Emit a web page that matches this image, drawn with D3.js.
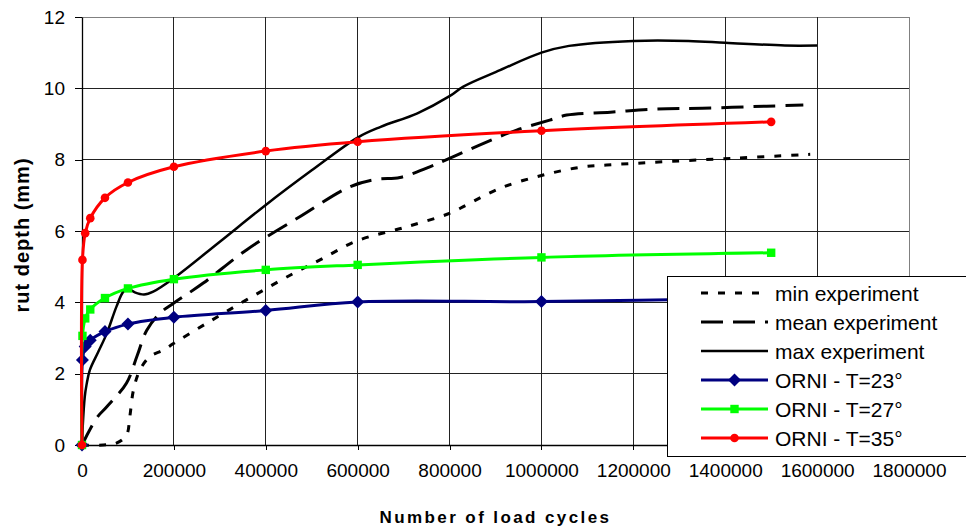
<!DOCTYPE html>
<html>
<head>
<meta charset="utf-8">
<script src="https://cdn.jsdelivr.net/npm/d3@7"></script>
<style>
  html, body { margin: 0; padding: 0; background: #fff; }
  svg { display: block; }
  text { font-family: "Liberation Sans", Arial, sans-serif; fill: #000; }
</style>
</head>
<body>
<svg id="chart" width="966" height="531"></svg>
<script>
// Rut depth versus load cycles: experiments (min / mean / max) and ORNI predictions
const xTicks = [0, 200000, 400000, 600000, 800000, 1000000, 1200000, 1400000, 1600000, 1800000];
const yTicks = [0, 2, 4, 6, 8, 10, 12];

const minExperiment = [
  [0, 0], [46000, 0], [75000, 0.05], [97000, 0.28], [104000, 0.79], [112000, 1.54],
  [126000, 2.1], [148000, 2.48], [177000, 2.66], [200000, 2.85], [271000, 3.41],
  [358000, 4.07], [460000, 4.81], [518000, 5.19], [598000, 5.72], [707000, 6.12],
  [801000, 6.5], [837000, 6.73], [910000, 7.2], [1004000, 7.57], [1091000, 7.8],
  [1142000, 7.85], [1236000, 7.92], [1418000, 8.04], [1585000, 8.15]
];
const meanExperiment = [
  [0, 0], [32000, 0.76], [54000, 1.07], [97000, 1.74], [120000, 2.5], [141000, 3.22],
  [170000, 3.7], [200000, 3.98], [264000, 4.54], [358000, 5.47], [474000, 6.4],
  [583000, 7.24], [641000, 7.45], [692000, 7.5], [757000, 7.8], [801000, 8.04],
  [874000, 8.46], [946000, 8.83], [1018000, 9.11], [1055000, 9.25], [1150000, 9.33],
  [1250000, 9.42], [1350000, 9.44], [1490000, 9.5], [1570000, 9.53]
];
const maxExperiment = [
  [0, 0], [1500, 0.5], [6000, 1.35], [10000, 1.7], [17000, 2.1], [35000, 2.6],
  [54000, 3.13], [75000, 3.88], [90000, 4.3], [100000, 4.38], [115000, 4.28],
  [135000, 4.22], [155000, 4.3], [200000, 4.68], [300000, 5.7], [400000, 6.73],
  [500000, 7.7], [600000, 8.62], [650000, 8.92], [730000, 9.3], [800000, 9.78],
  [830000, 10.05], [910000, 10.51], [1000000, 11.0], [1060000, 11.19], [1200000, 11.33],
  [1320000, 11.33], [1400000, 11.28], [1530000, 11.2], [1600000, 11.2]
];

const orniCycles = [0, 1000, 7000, 18000, 50000, 100000, 200000, 400000, 600000, 1000000, 1500000];
const orniT23 = [0, 2.38, 2.76, 2.94, 3.18, 3.39, 3.58, 3.77, 4.01, 4.02, 4.12];
const orniT27 = [0, 3.06, 3.55, 3.8, 4.12, 4.39, 4.65, 4.91, 5.05, 5.26, 5.39];
const orniT35 = [0, 5.19, 5.94, 6.36, 6.93, 7.36, 7.8, 8.24, 8.5, 8.81, 9.06];

const seriesNames = ["min experiment", "mean experiment", "max experiment",
                     "ORNI - T=23°", "ORNI - T=27°", "ORNI - T=35°"];

const svg = d3.select("#chart");
const plot = { left: 82, right: 909, top: 17, bottom: 445 };

const x = d3.scaleLinear().domain([0, 1800000]).range([plot.left, plot.right]);
const y = d3.scaleLinear().domain([0, 12]).range([plot.bottom, plot.top]);

// grid
const grid = svg.append("g");
grid.selectAll("line.h").data(yTicks.filter(d => d > 0)).join("line")
  .attr("x1", plot.left).attr("x2", plot.right)
  .attr("y1", d => y(d)).attr("y2", d => y(d))
  .attr("stroke", d => d === 12 ? "#808080" : "#222").attr("stroke-width", 1)
  .attr("shape-rendering", "crispEdges");
grid.selectAll("line.v").data(xTicks.filter(d => d > 0)).join("line")
  .attr("y1", plot.top).attr("y2", plot.bottom)
  .attr("x1", d => x(d)).attr("x2", d => x(d))
  .attr("stroke", d => d === 1800000 ? "#808080" : "#222").attr("stroke-width", 1)
  .attr("shape-rendering", "crispEdges");

// axes
const yAxis = svg.append("g")
  .attr("transform", `translate(${plot.left},0)`)
  .call(d3.axisLeft(y).tickValues(yTicks).tickSize(7).tickPadding(10).tickSizeOuter(0));
const xAxis = svg.append("g")
  .attr("transform", `translate(0,${plot.bottom})`)
  .call(d3.axisBottom(x).tickValues(xTicks).tickFormat(d3.format("d"))
    .tickSize(5).tickPadding(14).tickSizeOuter(0));
[yAxis, xAxis].forEach(a => {
  a.select(".domain").attr("stroke", "#000").attr("stroke-width", 1.3);
  a.selectAll(".tick line").attr("stroke", "#000").attr("shape-rendering", "crispEdges");
  a.selectAll("text").attr("font-size", 19).attr("font-family", "Liberation Sans, Arial, sans-serif").attr("fill", "#000");
});

// axis titles
svg.append("text")
  .attr("x", (plot.left + plot.right) / 2).attr("y", 523)
  .attr("text-anchor", "middle").attr("font-size", 17).attr("font-weight", "bold")
  .attr("letter-spacing", 2.4)
  .text("Number of load cycles");
svg.append("text")
  .attr("transform", `translate(29,${(plot.top + plot.bottom) / 2 + 4}) rotate(-90)`)
  .attr("text-anchor", "middle").attr("font-size", 20).attr("font-weight", "bold")
  .attr("letter-spacing", 1)
  .text("rut depth (mm)");

const line = d3.line().x(d => x(d[0])).y(d => y(d[1])).curve(d3.curveCatmullRom.alpha(0.5));

const styles = [
  { color: "#000", width: 3, dash: "7,10", marker: null },
  { color: "#000", width: 3, dash: "22,10", marker: null },
  { color: "#000", width: 2.5, dash: null, marker: null },
  { color: "#000080", width: 3, dash: null, marker: "diamond" },
  { color: "#00ff00", width: 3, dash: null, marker: "square" },
  { color: "#ff0000", width: 3, dash: null, marker: "circle" }
];
const seriesData = [
  minExperiment, meanExperiment, maxExperiment,
  orniCycles.map((c, i) => [c, orniT23[i]]),
  orniCycles.map((c, i) => [c, orniT27[i]]),
  orniCycles.map((c, i) => [c, orniT35[i]])
];

function drawMarker(g, type, color) {
  if (type === "diamond") {
    g.append("path").attr("d", "M0,-6.5L6.5,0L0,6.5L-6.5,0Z").attr("fill", color);
  } else if (type === "square") {
    g.append("rect").attr("x", -4.2).attr("y", -4.2).attr("width", 8.4).attr("height", 8.4).attr("fill", color);
  } else if (type === "circle") {
    g.append("circle").attr("r", 4.3).attr("fill", color);
  }
}

const series = svg.append("g");
seriesData.forEach((data, i) => {
  const s = styles[i];
  const g = series.append("g");
  g.append("path").datum(data)
    .attr("d", line)
    .attr("fill", "none").attr("stroke", s.color).attr("stroke-width", s.width)
    .attr("stroke-dasharray", s.dash).attr("stroke-linejoin", "round");
  if (s.marker) {
    g.selectAll("g.m").data(data).join("g")
      .attr("transform", d => `translate(${x(d[0])},${y(d[1])})`)
      .each(function () { drawMarker(d3.select(this), s.marker, s.color); });
  }
});

// legend
const legend = svg.append("g");
legend.append("rect")
  .attr("x", 667.5).attr("y", 276.5).attr("width", 320).attr("height", 180)
  .attr("fill", "#fff").attr("stroke", "#000").attr("stroke-width", 1);
seriesNames.forEach((name, i) => {
  const s = styles[i];
  const ly = 293 + i * 29;
  const row = legend.append("g");
  row.append("line").attr("x1", 701).attr("x2", 768).attr("y1", ly).attr("y2", ly)
    .attr("stroke", s.color).attr("stroke-width", s.width).attr("stroke-dasharray", s.dash);
  if (s.marker) {
    const m = row.append("g").attr("transform", `translate(734.5,${ly})`);
    drawMarker(m, s.marker, s.color);
  }
  row.append("text").attr("x", 775).attr("y", ly + 7.5)
    .attr("font-size", 21).text(name);
});
</script>
</body>
</html>
